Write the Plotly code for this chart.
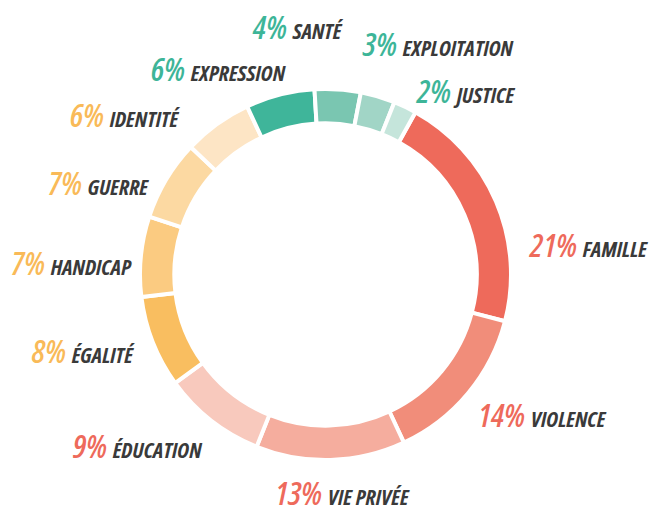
import plotly.graph_objects as go

# ---- data ----
categories = ["FAMILLE", "VIOLENCE", "VIE PRIVÉE", "ÉDUCATION", "ÉGALITÉ", "HANDICAP",
              "GUERRE", "IDENTITÉ", "EXPRESSION", "SANTÉ", "EXPLOITATION", "JUSTICE"]
values = [21, 14, 13, 9, 8, 7, 7, 6, 6, 4, 3, 2]

# ---- styles ----
slice_colors = ["#EE6A5B", "#F18D7A", "#F5AD9E", "#F8C9BD", "#F9BE60", "#FBCB81",
                "#FCD9A2", "#FDE5C5", "#3FB59A", "#7AC6B1", "#A1D5C6", "#C5E5DB"]
pct_colors = ["#EE6A5B"] * 4 + ["#F9BA58"] * 4 + ["#3DB598"] * 4
name_color = "#3A3A3A"

# label positions in pixels (left x, baseline y) -- layout only
label_pos = [(529, 256), (478, 426), (275, 504), (73, 457), (31, 362), (11, 274),
             (48, 195), (70, 127), (151, 80), (252, 39), (362, 55), (416, 103)]

W, H = 655, 507
cx, cy, R = 325.5, 274.5, 185.5

FONT = "Open Sans"

fig = go.Figure(go.Pie(
    labels=categories,
    values=values,
    sort=False,
    direction="clockwise",
    rotation=29,
    hole=0.815,
    marker=dict(colors=slice_colors, line=dict(color="white", width=4)),
    textinfo="none",
    hoverinfo="label+percent",
    showlegend=False,
    domain=dict(x=[(cx - R) / W, (cx + R) / W], y=[(H - cy - R) / H, (H - cy + R) / H]),
))

annotations = []
for name, v, pc, (px, py) in zip(categories, values, pct_colors, label_pos):
    txt = (f"<span style='color:{pc};font-size:32px;font-weight:600;font-stretch:semi-condensed'>{v}%</span> "
           f"<span style='color:{name_color};font-size:22px;font-weight:bold;font-stretch:condensed'>{name}</span>")
    annotations.append(dict(
        x=(px - 2) / W, y=1 - (py + 11.5) / H, xref="paper", yref="paper",
        xanchor="left", yanchor="bottom", text=txt, showarrow=False,
        font=dict(family=FONT, style="italic", size=22, color=name_color),
    ))

fig.update_layout(
    width=W, height=H,
    margin=dict(l=0, r=0, t=0, b=0),
    paper_bgcolor="white", plot_bgcolor="white",
    annotations=annotations,
)

fig.write_html("out.html", config={"displayModeBar": False},
               post_script="document.body.style.margin='0';")
